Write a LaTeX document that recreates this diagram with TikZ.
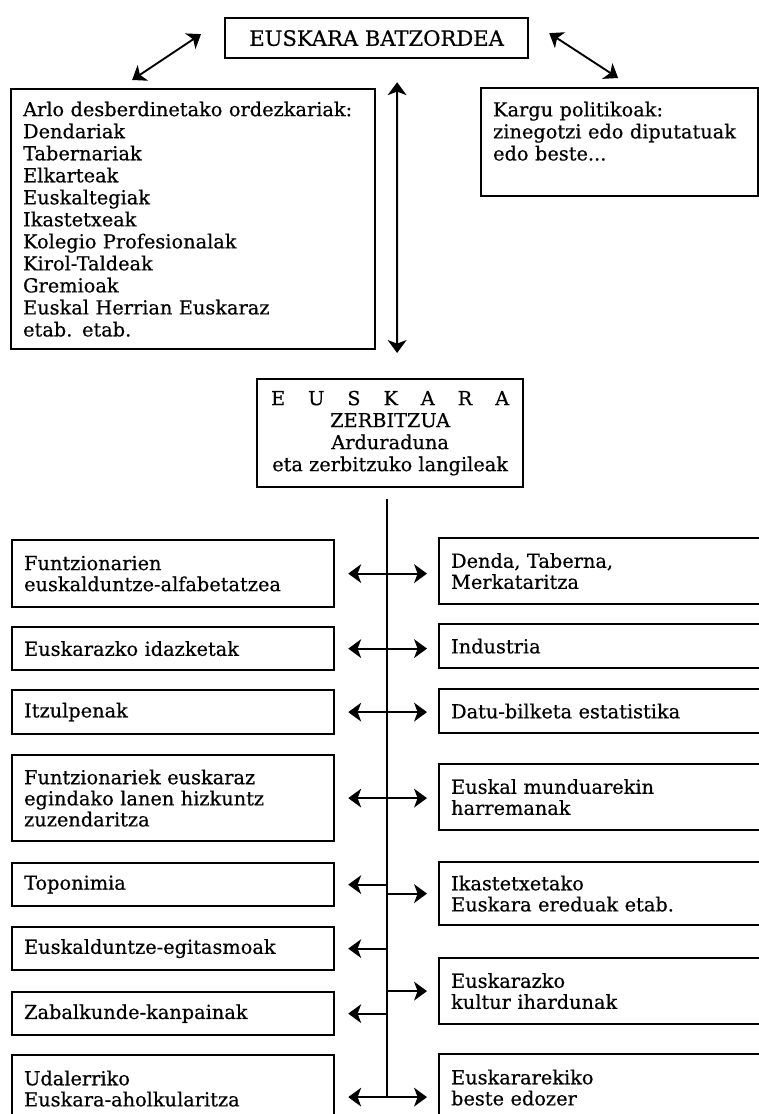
\documentclass[tikz,border=0pt]{standalone}
\usepackage{fontspec}
\setmainfont{DejaVu Serif}[UprightFeatures={FakeBold=0.5}]
\usetikzlibrary{arrows.meta}

\tikzset{
  box/.style={draw, line width=1.9pt, anchor=north west, align=left, inner xsep=0.36cm, inner ysep=0pt, font=\fontsize{16.5}{18}\selectfont},
  lbox/.style={box, text width=8.94cm, minimum height=#1},
  rbox/.style={box, text width=9.0cm, minimum height=#1},
  link/.style={line width=1.6pt},
  oneway/.style={link, -{Stealth[length=11pt,width=16pt,inset=3pt]}},
  twoway/.style={link, {Stealth[length=11pt,width=16pt,inset=3pt]}-{Stealth[length=11pt,width=16pt,inset=3pt]}},
}

\begin{document}
\begin{tikzpicture}[x=0.03cm, y=-0.03cm]
  \useasboundingbox (0, 0) rectangle (759, 1114);

  \node[box, align=center, minimum width=9.09cm, minimum height=1.2cm, font=\fontsize{18}{20}\selectfont] (batz) at (224, 17) {EUSKARA BATZORDEA};
  \node[box, text width=10.2cm, minimum height=7.8cm, font=\fontsize{16.5}{18.8}\selectfont] (arlo) at (10, 88)
    {Arlo desberdinetako ordezkariak:\\ Dendariak\\ Tabernariak\\ Elkarteak\\ Euskaltegiak\\ Ikastetxeak\\
     Kolegio Profesionalak\\ Kirol-Taldeak\\ Gremioak\\ Euskal Herrian Euskaraz\\ etab. etab.};
  \node[box, text width=7.59cm, minimum height=3.24cm, font=\fontsize{16.5}{18.8}\selectfont] (kargu) at (480, 87)
    {Kargu politikoak:\\ zinegotzi edo diputatuak\\ edo beste...\\ \mbox{}};
  \node[box, align=center, minimum width=7.98cm, minimum height=3.24cm, font=\fontsize{16.5}{18.8}\selectfont] (zerb) at (256, 378)
    {\makebox[7.14cm][s]{E\hfill U\hfill S\hfill K\hfill A\hfill R\hfill A}\\ ZERBITZUA\\ Arduraduna\\ eta zerbitzuko langileak};

  \draw[twoway] ([shift={(-61,-8)}]arlo.north) -- ([shift={(-23,-4)}]batz.west);
  \draw[twoway] ([shift={(-1.5,-9)}]kargu.north) -- ([shift={(20,-5)}]batz.east);
  \draw[twoway] ([shift={(20.5,23)}]batz.south) -- ([shift={(7,-25)}]zerb.north);

  \node[lbox=2.01cm] (l1) at (11, 539) {Funtzionarien\\ euskalduntze-alfabetatzea};
  \node[lbox=1.29cm] (l2) at (11, 626) {Euskarazko idazketak};
  \node[lbox=1.32cm] (l3) at (11, 689) {Itzulpenak};
  \node[lbox=2.58cm] (l4) at (11, 754) {Funtzionariek euskaraz\\ egindako lanen hizkuntz\\ zuzendaritza};
  \node[lbox=1.29cm] (l5) at (11, 862) {Toponimia};
  \node[lbox=1.29cm] (l6) at (11, 926) {Euskalduntze-egitasmoak};
  \node[lbox=1.29cm] (l7) at (11, 991) {Zabalkunde-kanpainak};
  \node[lbox=2.01cm] (l8) at (11, 1054) {Udalerriko\\ Euskara-aholkularitza};

  \node[rbox=1.98cm] (r1) at (438, 537) {Denda, Taberna,\\ Merkataritza};
  \node[rbox=1.32cm] (r2) at (438, 623) {Industria};
  \node[rbox=1.32cm] (r3) at (438, 688) {Datu-bilketa estatistika};
  \node[rbox=1.98cm] (r4) at (438, 763) {Euskal munduarekin\\ harremanak};
  \node[rbox=1.89cm] (r5) at (438, 861) {Ikastetxetako\\ Euskara ereduak etab.};
  \node[rbox=1.98cm] (r6) at (438, 957) {Euskarazko\\ kultur ihardunak};
  \node[rbox=2.01cm] (r7) at (438, 1053) {Euskararekiko\\ beste edozer};

  \coordinate (spinetop) at ([shift={(-3,11)}]zerb.south);
  \coordinate (l8a) at ([shift={(0,8.5)}]l8.east);
  \draw[link] (spinetop) -- (spinetop |- l8a);

  \foreach \i in {1,...,4}
    \draw[twoway, shorten <=0.39cm, shorten >=0.33cm] (l\i.east) -- (l\i.east -| r\i.west);
  \draw[twoway, shorten <=0.39cm, shorten >=0.33cm] (l8a) -- (l8a -| r7.west);

  \foreach \i in {5,6,7}
    \draw[oneway, shorten >=0.39cm] (spinetop |- l\i.east) -- (l\i.east);
  \foreach \i in {5,6}
    \draw[oneway, shorten >=0.33cm] (spinetop |- r\i.west) -- (r\i.west);
\end{tikzpicture}
\end{document}
